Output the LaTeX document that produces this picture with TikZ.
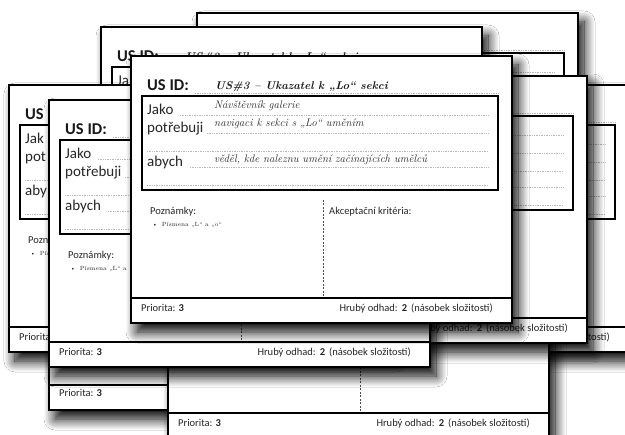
\documentclass[tikz,border=0pt]{standalone}
\usepackage{fontspec}
\newfontfamily\calib{Carlito}
\usetikzlibrary{shadows.blur}
\tikzset{
  cardline/.style={line width=2.2pt, black},
  innerline/.style={line width=1.8pt, black},
  dotline/.style={gray!55, line width=0.5pt, dash pattern=on 0.6pt off 1.1pt},
  vdash/.style={black!70, line width=0.5pt, dash pattern=on 2pt off 1.5pt},
  cardfill/.style={fill=white, blur shadow={shadow xshift=6pt, shadow yshift=-9pt, shadow blur radius=11pt, shadow blur steps=14, shadow opacity=100}},
  usid/.style={anchor=base west, inner sep=0pt, text=black!90, font=\calib\bfseries\fontsize{16.5}{18}\selectfont},
  lbl/.style={anchor=base west, inner sep=0pt, text=black!85, font=\calib\fontsize{15}{17}\selectfont},
  small/.style={anchor=base west, inner sep=0pt, text=black!85, font=\calib\fontsize{10.5}{12}\selectfont},
  est/.style={anchor=base east, inner sep=0pt, text=black!85, font=\calib\fontsize{10.5}{12}\selectfont},
  hand/.style={anchor=base west, inner sep=0pt, text=black!85, font=\itshape\fontsize{11}{13}\selectfont},
  htitle/.style={anchor=base west, inner sep=0pt, text=black!90, font=\bfseries\itshape\fontsize{11.2}{13}\selectfont},
  note/.style={anchor=base west, inner sep=0pt, text=black!85, font=\fontsize{6}{7}\selectfont},
}
\newcommand\cardbase{%
  \path[cardfill] (0,0) rectangle (381,267);
  \draw[dotline] (64,37) -- (367,37);
  \draw[dotline] (49,59) -- (357,59);
  \draw[dotline] (76,77) -- (357,77);
  \draw[dotline] (16,95) -- (357,95);
  \draw[dotline] (59,111) -- (357,111);
  \draw[dotline] (16,129) -- (357,129);
  \draw[innerline] (11,40) rectangle (367,134);
  \draw[vdash] (192,144) -- (192,242);
  \draw[cardline] (0,242) -- (381,242);
  \draw[cardline] (0,0) rectangle (381,267);
}
\newcommand\esttext{Hrubý odhad:\hspace{4pt}\textbf{2}\hspace{4pt}(násobek složitosti)}
\begin{document}
\begin{tikzpicture}[x=1pt, y=-1pt]
\useasboundingbox (0,0) rectangle (625,435);
\fill[white] (0,0) rectangle (625,435);
\clip (0,0) rectangle (625,435);

% card I (bottom right, plain, behind all)
\begin{scope}[shift={(262,352)}]
  \path[cardfill] (0,0) rectangle (381,267);
  \draw[cardline] (0,0) rectangle (381,267);
\end{scope}

% card A (top back)
\begin{scope}[shift={(197,13)}]
  \cardbase
\end{scope}

% card B
\begin{scope}[shift={(101,27)}]
  \cardbase
  \node[usid] (B-id) at (16,35) {US ID:};
  \node[htitle] (B-t) at (84,34) {US\#2 – Ukazatel k „Lo“ sekci};
  \node[lbl] (B-j) at (16,59) {Ja};
  \node[lbl] (B-p) at (16,77) {po};
\end{scope}

% card D (far right)
\begin{scope}[shift={(248,85)}]
  \cardbase
  \node[est] (D-ho) at (362,256) {\esttext};
\end{scope}

% card H (left, lower)
\begin{scope}[shift={(49,143)}]
  \cardbase
  \node[small] (H-pr) at (10,254) {Priorita: \textbf{3}};
\end{scope}

% card E (bottom centre)
\begin{scope}[shift={(168,171)}]
  \cardbase
  \node[small] (E-pr) at (10,256) {Priorita: \textbf{3}};
  \node[est] (E-ho) at (362,256) {\esttext};
\end{scope}

% card C (right middle)
\begin{scope}[shift={(206,76)}]
  \cardbase
  \node[est] (C-ho) at (362,256) {\esttext};
\end{scope}

% card F (far left)
\begin{scope}[shift={(9,85)}]
  \cardbase
  \node[usid] (Fl-id) at (16,35) {US};
  \node[lbl] (Fl-j) at (16,59) {Jak};
  \node[lbl] (Fl-p) at (16,77) {pot};
  \node[lbl] (Fl-a) at (16,111) {aby};
  \node[small] (Fl-pz) at (19,159) {Pozn};
  \node[note] (Fl-n) at (21,171) {\textbullet\hspace{4pt}Pís};
  \node[small] (Fl-pr) at (10,256) {Priorita};
\end{scope}

% card G (left middle)
\begin{scope}[shift={(49,100)}]
  \cardbase
  \node[usid] (G-id) at (16,35) {US ID:};
  \node[lbl] (G-j) at (16,59) {Jako};
  \node[lbl] (G-p) at (16,77) {potřebuji};
  \node[lbl] (G-a) at (16,111) {abych};
  \node[small] (G-pz) at (19,159) {Poznámky:};
  \node[note] (G-n) at (21,171) {\textbullet\hspace{4pt}Písmena „L“ a „o“};
  \node[small] (G-pr) at (10,256) {Priorita: \textbf{3}};
  \node[est] (G-ho) at (362,256) {\esttext};
\end{scope}

% front card
\begin{scope}[shift={(131,56)}]
  \cardbase
  \node[usid] (X-id) at (16,35) {US ID:};
  \node[htitle] (X-t) at (84,34) {US\#3 – Ukazatel k „Lo“ sekci};
  \node[lbl] (X-j) at (16,59) {Jako};
  \node[lbl] (X-p) at (16,77) {potřebuji};
  \node[lbl] (X-a) at (16,111) {abych};
  \node[hand] (X-h1) at (83,53) {Návštěvník galerie};
  \node[hand] (X-h2) at (83,71) {navigaci k sekci s „Lo“ uměním};
  \node[hand] (X-h3) at (83,107) {věděl, kde naleznu umění začínajících umělců};
  \node[small] (X-pz) at (19,159) {Poznámky:};
  \node[small] (X-ak) at (198,159) {Akceptační kritéria:};
  \node[note] (X-n) at (21,171) {\textbullet\hspace{4pt}Písmena „L“ a „o“};
  \node[small] (X-pr) at (10,256) {Priorita: \textbf{3}};
  \node[est] (X-ho) at (362,256) {\esttext};
\end{scope}
\end{tikzpicture}
\end{document}
